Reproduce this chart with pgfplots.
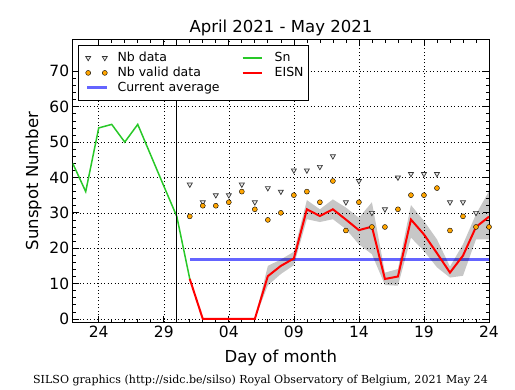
\documentclass[border=0pt]{standalone}
\usepackage{fontspec}
\setmainfont{DejaVu Sans}
\newfontfamily\seriffont{DejaVu Serif}
\usepackage{pgfplots}
\pgfplotsset{compat=1.18}
\definecolor{sngreen}{RGB}{40,200,40}
\definecolor{avgblue}{RGB}{100,100,255}
\definecolor{nborange}{RGB}{255,165,0}
\pgfplotsset{
  markleg/.style={legend image code/.code={\path[draw=none,fill=none] (0pt,-3pt) rectangle (34pt,3pt); \path[##1] plot[only marks] coordinates {(6.6pt,0pt) (23.2pt,0pt)};}},
  lineleg/.style={legend image code/.code={\path[draw=none,fill=none] (0pt,-3pt) rectangle (34pt,3pt); \draw[##1] (5.4pt,0pt) -- (25.4pt,0pt);}},
  lineleg2/.style={legend image code/.code={\path[draw=none,fill=none] (0pt,-3pt) rectangle (30pt,3pt); \draw[##1] (0pt,0pt) -- (19pt,0pt);}},
  nbdatamark/.style={mark=triangle*, mark size=2.9pt,
    mark options={rotate=180, fill=black!8, draw=black!80, line width=0.7pt}},
  nbvalidmark/.style={mark=*, mark size=2.5pt,
    mark options={fill=nborange, draw=black, line width=0.4pt}},
}
\begin{document}
\begin{tikzpicture}
\path[use as bounding box] (0pt,0pt) rectangle (515pt,390pt);
\begin{axis}[
  at={(72.7pt,67.5pt)}, anchor=south west, scale only axis,
  width=416.3pt, height=283pt,
  xmin=0, xmax=32, ymin=-1, ymax=79,
  xtick={2,7,12,17,22,27,32},
  xticklabels={\mbox{24},\mbox{29},\mbox{04},\mbox{09},\mbox{14},\mbox{19},\mbox{24}},
  ytick={0,10,20,30,40,50,60,70},
  minor x tick num=4, minor y tick num=4,
  tick align=inside, tick pos=both, xticklabel pos=lower, yticklabel pos=left,
  major tick length=6pt, minor tick length=3.5pt,
  every tick/.style={black, line width=0.7pt},
  grid=major, major grid style={black, line width=0.5pt, dash pattern=on 1pt off 2.5pt},
  axis line style={line width=1pt},
  tick label style={font=\fontsize{15.5}{18}\selectfont},
  /pgf/number format/assume math mode=true,
  legend columns=2,
  legend cell align=left,
  legend style={at={(0,1)}, anchor=north west, xshift=5.5pt, yshift=-5.5pt,
    draw=black, line width=0.8pt, font=\fontsize{12.5}{14}\selectfont,
    inner xsep=3pt, inner ysep=5pt, row sep=0pt,
    nodes={inner xsep=2pt},
    /tikz/every even column/.append style={column sep=20pt}},
]
% legend
\addlegendimage{nbdatamark, markleg}
\addlegendentry{Nb data}
\addlegendimage{sngreen, line width=1.5pt, lineleg2}
\addlegendentry{Sn}
\addlegendimage{nbvalidmark, markleg}
\addlegendentry{Nb valid data}
\addlegendimage{red, line width=2pt, lineleg2}
\addlegendentry{EISN}
\addlegendimage{avgblue, line width=3pt, lineleg}
\addlegendentry{Current average}
% current average
\addplot[forget plot, avgblue, line width=3pt] coordinates {(9,16.9) (32,16.9)};
% uncertainty band (upper forward, lower backward)
\addplot[forget plot, draw=none, fill=black, fill opacity=0.22] coordinates {
(14,0) (15,15) (16,16.8) (17,19) (18,33.6) (19,31) (20,33.8) (21,31.5) (22,28.6)
(23,33) (24,13.1) (25,14.1) (26,32.2) (27,27.7) (28,22.5) (29,14.8) (30,21.1)
(31,29.6) (32,36.1)
(32,22.5) (31,22.5) (30,12.2) (29,11.7) (28,14.6) (27,19.2) (26,23) (25,9.4)
(24,9.6) (23,18.3) (22,21.1) (21,25.4) (20,28.2) (19,27.4) (18,28.2) (17,15.2)
(16,12.7) (15,9.5) (14,0)};
% Sn
\addplot[forget plot, sngreen, line width=1.5pt] coordinates {
(0,44) (1,36) (2,54) (3,55) (4,50) (5,55) (6,46.3) (7,37.6) (8,29) (9,11.3)};
% EISN
\addplot[forget plot, red, line width=2pt] coordinates {
(9,11.3) (10,0) (11,0) (12,0) (13,0) (14,0) (15,12.1) (16,15) (17,17.1) (18,31)
(19,29.1) (20,31) (21,28.1) (22,25.1) (23,26.1) (24,11.3) (25,12) (26,28.1)
(27,23.9) (28,18.6) (29,13.1) (30,17.9) (31,26) (32,28.9)};
% vertical line
\addplot[forget plot, black, line width=1.4pt] coordinates {(8,-1) (8,79)};
% Nb data
\addplot[forget plot, only marks, nbdatamark] coordinates {
(9,38) (10,33) (11,35) (12,35) (13,38) (14,33) (15,37) (16,36) (17,42) (18,42)
(19,43) (20,46) (21,33) (22,39) (23,30) (24,31) (25,40) (26,41) (27,41) (28,41)
(29,33) (30,33) (31,30)};
% Nb valid data
\addplot[forget plot, only marks, nbvalidmark] coordinates {
(9,29) (10,32) (11,32) (12,33) (13,36) (14,31) (15,28) (16,30) (17,35) (18,36)
(19,33) (20,39) (21,25) (22,33) (23,26) (24,26) (25,31) (26,35) (27,35) (28,37)
(29,25) (30,29) (31,26) (32,26)};
\end{axis}
\node[anchor=base, font=\fontsize{16.5}{19}\selectfont] at (280.9pt,357pt) {April 2021 - May 2021};
\node[anchor=base, font=\fontsize{16.5}{19}\selectfont] at (280.9pt,27pt) {Day of month};
\node[anchor=base, rotate=90, font=\fontsize{16.5}{19}\selectfont] at (38pt,209pt) {Sunspot Number};
\node[anchor=base, font=\seriffont\fontsize{11.05}{13}\selectfont] at (260.5pt,6.5pt) {SILSO graphics (http://sidc.be/silso) Royal Observatory of Belgium, 2021 May 24};
\end{tikzpicture}
\end{document}
